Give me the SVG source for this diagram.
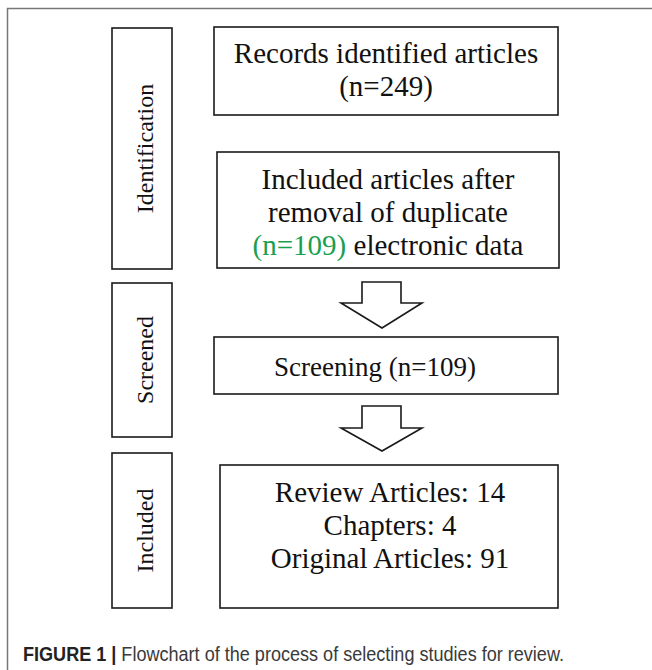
<svg xmlns="http://www.w3.org/2000/svg" width="652" height="670" viewBox="0 0 652 670">
<style>
.box{fill:#fff;stroke:#1a1a1a;stroke-width:1.6}
.arr{fill:#fff;stroke:#1a1a1a;stroke-width:1.6;stroke-linejoin:miter}
.t{font-family:"Liberation Serif","Times New Roman",serif;font-size:29px;fill:#111;text-anchor:middle}
.lab{font-family:"Liberation Serif","Times New Roman",serif;font-size:24px;fill:#111;text-anchor:middle}
.cap{font-family:"Liberation Sans",Arial,sans-serif;font-size:20px;fill:#3a3a3a}
</style>
<rect width="652" height="670" fill="#fff"/>
<path d="M652,8.5 H7.5 V670" fill="none" stroke="#777" stroke-width="1.5"/>

<g id="label-identification">
<rect class="box" x="112" y="28" width="60" height="241"/>
<text class="lab" transform="translate(153,148.5) rotate(-90)">Identification</text>
</g>
<g id="label-screened">
<rect class="box" x="112" y="283" width="60" height="154"/>
<text class="lab" transform="translate(153,360) rotate(-90)">Screened</text>
</g>
<g id="label-included">
<rect class="box" x="112" y="453" width="60" height="155"/>
<text class="lab" transform="translate(153,530.5) rotate(-90)">Included</text>
</g>

<g id="records">
<rect class="box" x="214" y="27" width="344" height="88"/>
<text class="t" x="386" y="63">Records identified articles</text>
<text class="t" x="386" y="96">(n=249)</text>
</g>
<g id="after-duplicates">
<rect class="box" x="217" y="152" width="342" height="116"/>
<text class="t" x="388" y="189">Included articles after</text>
<text class="t" x="388" y="222">removal of duplicate</text>
<text class="t" x="388" y="255"><tspan fill="#1a9f4f">(n=109)</tspan> electronic data</text>
</g>
<g id="screening">
<rect class="box" x="214" y="337" width="344" height="57"/>
<text class="t" x="375" y="376" style="font-size:27px">Screening (n=109)</text>
</g>
<g id="results">
<rect class="box" x="220" y="465" width="338" height="143"/>
<text class="t" x="390" y="502">Review Articles: 14</text>
<text class="t" x="390" y="535">Chapters: 4</text>
<text class="t" x="390" y="568">Original Articles: 91</text>
</g>

<g id="connectors">
<polygon class="arr" points="362,282 401,282 401,303 422,303 382,328 341,303 362,303"/>
<polygon class="arr" points="362,406 401,406 401,428 422,428 382,451 341,428 362,428"/>
</g>

<g id="caption">
<text class="cap" x="23" y="661" textLength="541" lengthAdjust="spacingAndGlyphs"><tspan font-weight="bold" style="fill:#222">FIGURE 1 | </tspan>Flowchart of the process of selecting studies for review.</text>
</g>
</svg>
